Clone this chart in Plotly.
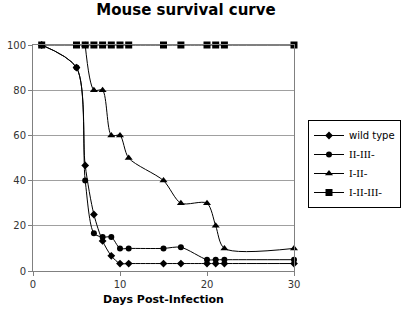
import plotly.graph_objects as go

days_wt = [1, 5, 6, 7, 8, 9, 10, 11, 15, 17, 20, 21, 22, 30]
wild_type = [100, 90, 46.7, 25, 13.3, 6.7, 3.3, 3.3, 3.3, 3.3, 3.3, 3.3, 3.3, 3.3]

days_23 = [1, 5, 6, 7, 8, 9, 10, 11, 15, 17, 20, 21, 22, 30]
ii_iii = [100, 90, 40, 16.7, 15, 15, 10, 10, 10, 10.5, 5, 5, 5, 5]

days_12 = [6, 7, 8, 9, 10, 11, 15, 17, 20, 21, 22, 30]
i_ii = [100, 80, 80, 60, 60, 50, 40, 30, 30, 20, 10, 10]

days_123 = [1, 5, 6, 7, 8, 9, 10, 11, 15, 17, 20, 21, 22, 30]
i_ii_iii = [100, 100, 100, 100, 100, 100, 100, 100, 100, 100, 100, 100, 100, 100]

x_ticks = [0, 10, 20, 30]
y_ticks = [0, 20, 40, 60, 80, 100]

SERIF = "<span style='font-family:Liberation Serif;font-size:11px'>%s</span>"

series = [
    ("wild type", days_wt, wild_type, "diamond", 6),
    (SERIF % "II-III-", days_23, ii_iii, "circle", 6),
    (SERIF % "I-II-", days_12, i_ii, "triangle-up", 7),
    (SERIF % "I-II-III-", days_123, i_ii_iii, "square", 7),
]

fig = go.Figure()
for name, xs, ys, sym, sz in series:
    fig.add_trace(go.Scatter(
        x=xs, y=ys, name=name, mode="lines+markers",
        line=dict(color="black", width=1, shape="spline", smoothing=0.8),
        marker=dict(symbol=sym, size=sz, color="black"),
        cliponaxis=False,
    ))

L, R, T, B = 33, 109, 45, 43
PW = 403 - L - R
PH = 314 - T - B

fig.update_layout(
    width=403, height=314,
    margin=dict(l=L, r=R, t=T, b=B, autoexpand=False),
    paper_bgcolor="white", plot_bgcolor="white",
    font=dict(family="DejaVu Sans", size=10, color="black"),
    title=dict(text="<b>Mouse survival curve</b>", x=186 / 403, xanchor="center",
               y=1 - 10 / 314, yanchor="middle", automargin=False,
               font=dict(family="DejaVu Sans", size=15, color="black")),
    showlegend=True,
    legend=dict(x=(401 - L) / PW, xanchor="right", y=(271 - 120) / PH, yanchor="top",
                bordercolor="black", borderwidth=1, bgcolor="white",
                font=dict(family="DejaVu Sans", size=10, color="black"),
                tracegroupgap=0, itemsizing="trace"),
    xaxis=dict(range=[0, 30], tickvals=x_ticks, showgrid=False, zeroline=False,
               automargin=False,
               showline=True, linecolor="#808080", linewidth=1, mirror=True,
               ticks="outside", ticklen=4, tickcolor="#808080",
               tickfont=dict(family="DejaVu Sans", size=10, color="#333333"),
               title=dict(text="<b>Days Post-Infection</b>", standoff=6,
                          font=dict(family="DejaVu Sans", size=11, color="black"))),
    yaxis=dict(range=[0, 100], tickvals=y_ticks, showgrid=True, gridcolor="#a0a0a0",
               automargin=False,
               gridwidth=1, zeroline=False, showline=True, linecolor="#808080",
               linewidth=1, mirror=True, ticks="outside", ticklen=4, tickcolor="#808080",
               tickfont=dict(family="DejaVu Sans", size=10, color="#333333")),
)

fig.write_html("out.html", config={"displayModeBar": False},
               post_script="document.body.style.margin='0';document.body.style.overflow='hidden';")
